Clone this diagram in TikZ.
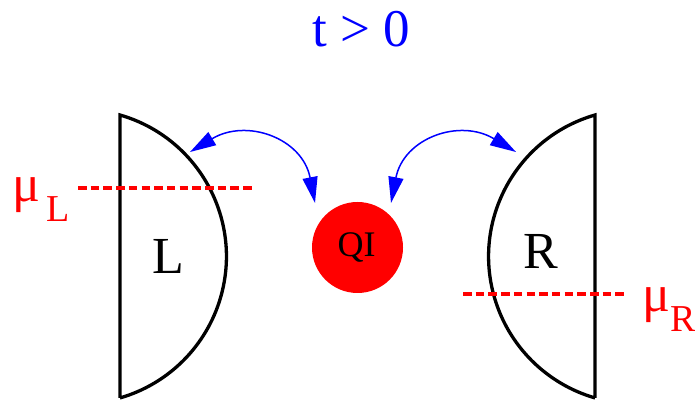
\documentclass[tikz,border=0pt]{standalone}
\usepackage{fontspec}
\setmainfont{Liberation Serif}
\usetikzlibrary{arrows.meta}
\begin{document}
\begin{tikzpicture}[x=1pt,y=1pt,
  lens/.style={line width=3.3pt, line join=miter},
  level/.style={red, line width=3.6pt, dash pattern=on 8.5pt off 4.2pt},
  hop/.style={blue, line width=1.5pt, {Triangle[length=26pt,width=15pt]}-{Triangle[length=26pt,width=15pt]}},
  lbl/.style={inner sep=0pt, anchor=base},
  big/.style={font=\fontsize{52}{52}\selectfont},
  redtxt/.style={red, inner sep=0pt, anchor=base west}]
\useasboundingbox (0,0) rectangle (695,403);
% title
\node[lbl, blue, font=\fontsize{53}{53}\selectfont] (title) at (361,356) {t > 0};
% left lead
\draw[lens] (120,5) -- (120,288) arc[start angle=73.9, end angle=-73.9, radius=147.25] -- cycle;
% right lead
\draw[lens] (595,5) -- (595,288) arc[start angle=106.1, end angle=253.9, radius=147.25] -- cycle;
\node[lbl, big] (L) at (168,129) {L};
\node[lbl, big] (R) at (541,134) {R};
% dot
\node[circle, fill=red, minimum size=91pt, inner sep=0pt] (qi) at (357.5,155.5) {};
\node[lbl, font=\fontsize{36}{36}\selectfont] (qit) at (356.5,146) {QI};
% chemical potentials
\coordinate (mlA) at (78,215);
\coordinate (mlB) at (255,215);
\draw[level] (mlA) -- (mlB);
\coordinate (mrA) at (463,109);
\coordinate (mrB) at (627,109);
\draw[level] (mrA) -- (mrB);
\node[redtxt, font=\fontsize{52}{52}\selectfont] (muL) at (12,201) {μ};
\node[redtxt, font=\fontsize{38}{38}\selectfont] (subL) at (46,181) {L};
\node[redtxt, font=\fontsize{52}{52}\selectfont] (muR) at (642,91) {μ};
\node[redtxt, font=\fontsize{38}{38}\selectfont] (subR) at (670,71) {R};
% tunnelling arrows
\coordinate (lt) at (190,251);
\coordinate (lq) at (315,200);
\coordinate (rq) at (391,200);
\coordinate (rt) at (516,251);
\draw[hop] (lt) to[out=31, in=101, looseness=1.25] (lq);
\draw[hop] (rq) to[out=79, in=149, looseness=1.25] (rt);
\end{tikzpicture}
\end{document}
